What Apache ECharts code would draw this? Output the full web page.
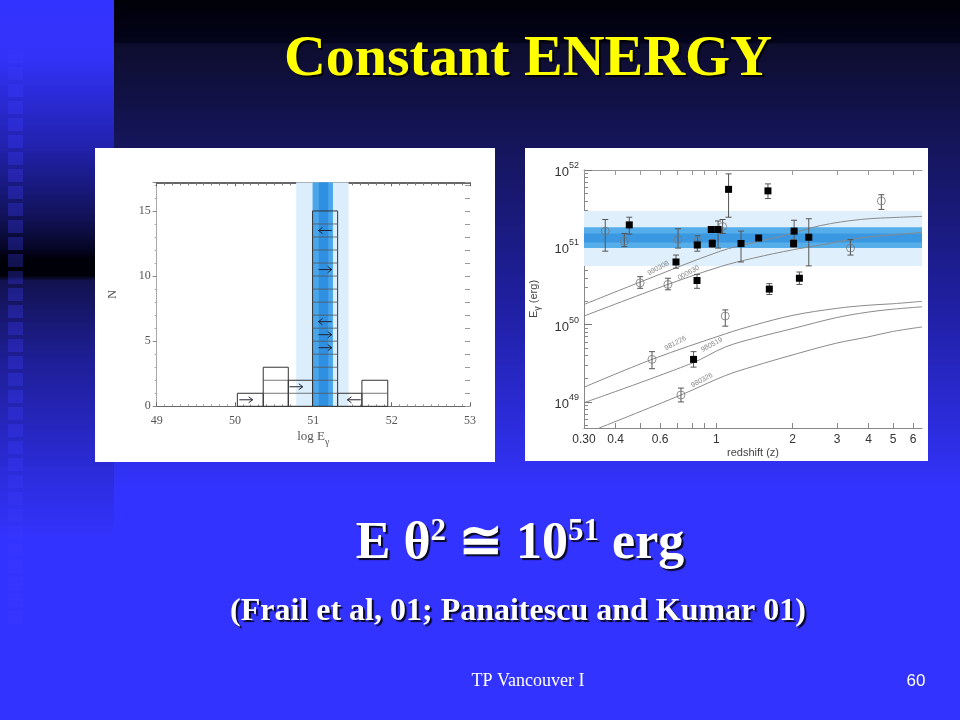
<!DOCTYPE html>
<html><head><meta charset="utf-8">
<script src="https://cdn.jsdelivr.net/npm/echarts@6.0.0/dist/echarts.min.js"></script>
<style>html,body{margin:0;padding:0;background:#3333ff;}#c{width:960px;height:720px;}</style>
</head><body><div id="c"></div>
<script>
// ---------- Left panel: histogram of log E_gamma ----------
const histBinEdges = [50.03, 50.36, 50.68, 50.99, 51.31, 51.62, 51.95];
const histCounts = [1, 3, 2, 15, 1, 2];
const histArrowX = [50.14, 50.78, 51.52, 51.15, 51.15, 51.15, 51.15, 51.15];
const histArrowN = [0.5, 1.5, 0.5, 13.5, 10.5, 6.5, 5.5, 4.5];
const histArrowDir = [1, 1, -1, -1, 1, -1, 1, 1];
const histXRange = [49, 53];
const histYRange = [0, 17.2];
const histYTicks = [0, 5, 10, 15];
const histBands = [[50.78, 51.45], [50.99, 51.25], [51.07, 51.19]];

// ---------- Right panel: E_gamma vs redshift ----------
const zFilled  = [0.453, 0.693, 0.841, 0.839, 0.955, 0.964, 1.016, 1.118, 1.60, 1.252, 1.47, 2.03, 2.02, 2.32, 1.62, 2.13, 0.813];
const eFilled  = [1.95e51, 6.46e50, 1.07e51, 3.72e50, 1.70e51, 1.12e51, 1.70e51, 5.62e51, 5.37e51, 1.12e51, 1.32e51, 1.62e51, 1.12e51, 1.35e51, 2.88e50, 3.98e50, 3.55e49];
const eFilledLo = [1.48e51, 5.37e50, 8.91e50, 2.95e50, 1.55e51, 1.00e51, 9.77e50, 2.45e51, 4.27e51, 6.46e50, 1.26e51, 1.15e51, 1.00e51, 5.75e50, 2.45e50, 3.31e50, 2.82e49];
const eFilledHi = [2.45e51, 7.94e50, 1.20e51, 4.47e50, 1.86e51, 1.26e51, 2.19e51, 8.91e51, 6.61e51, 1.62e51, 1.38e51, 2.24e51, 1.26e51, 2.34e51, 3.39e50, 4.79e50, 4.47e49];

const zOpen  = [0.364, 0.433, 0.706, 0.844, 1.059, 3.39, 4.49, 0.50, 0.644, 1.085, 0.557, 0.725];
const eOpen  = [1.62e51, 1.20e51, 1.26e51, 1.20e51, 1.86e51, 9.77e50, 3.98e51, 3.47e50, 3.31e50, 1.29e50, 3.55e49, 1.23e49];
const eOpenLo = [8.91e50, 1.02e51, 9.77e50, 1.05e51, 1.51e51, 7.94e50, 3.09e51, 2.95e50, 2.82e50, 9.55e49, 2.69e49, 1.00e49];
const eOpenHi = [2.29e51, 1.51e51, 1.74e51, 1.41e51, 2.29e51, 1.26e51, 4.79e51, 4.17e50, 3.98e50, 1.55e50, 4.47e49, 1.51e49];

const curveNames = ['990308', '000630', '981226', '980519', '980326'];
const curveZ = [
  [0.30, 0.50, 1.037, 1.40, 1.90, 2.58, 3.71, 5.34, 6.5],
  [0.30, 0.644, 1.037, 1.40, 2.02, 2.58, 3.71, 5.34, 6.5],
  [0.30, 0.557, 1.085, 1.40, 2.01, 2.98, 3.97, 4.96, 6.5],
  [0.30, 0.80, 1.085, 1.40, 2.01, 2.98, 3.97, 4.96, 6.5],
  [0.343, 0.725, 1.085, 1.40, 2.01, 2.98, 3.97, 4.96, 6.5]
];
const curveE = [
  [1.82e50, 3.55e50, 8.91e50, 1.15e51, 1.45e51, 1.91e51, 2.29e51, 2.45e51, 2.51e51],
  [1.29e50, 3.31e50, 5.62e50, 7.24e50, 9.33e50, 1.07e51, 1.32e51, 1.48e51, 1.55e51],
  [1.55e49, 3.55e49, 7.59e49, 9.77e49, 1.32e50, 1.62e50, 1.78e50, 1.86e50, 2.00e50],
  [9.77e48, 3.16e49, 5.13e49, 6.61e49, 8.91e49, 1.23e50, 1.45e50, 1.58e50, 1.70e50],
  [4.57e48, 1.23e49, 2.19e49, 2.88e49, 4.07e49, 5.75e49, 6.92e49, 8.13e49, 9.33e49]
];
const curveLabelZ = [0.59, 0.777, 0.689, 0.96, 0.878];
const curveLabelE = [5.37e50, 4.68e50, 5.75e49, 5.50e49, 1.91e49];

const eBands = [[5.75e50, 2.95e51], [9.77e50, 1.82e51], [1.15e51, 1.51e51]];
const zRange = [0.30, 6.5];
const eRange = [4.6e48, 1e52];
const zTickLabels = [0.3, 0.4, 0.6, 1, 2, 3, 4, 5, 6];
const zTicks = [0.3, 0.4, 0.5, 0.6, 0.7, 0.8, 0.9, 1, 2, 3, 4, 5, 6];
const eDecades = [1e49, 1e50, 1e51, 1e52];

// ---------- build ----------
const L = Math.log10;
const chart = echarts.init(document.getElementById('c'), null, {renderer: 'canvas', width: 960, height: 720});

const eMinorTicks = [];
for (let d = 48; d < 52; d++) for (let k = 1; k <= 9; k++) {
  const v = k * Math.pow(10, d);
  if (v >= eRange[0] && v <= eRange[1]) eMinorTicks.push(L(v));
}

const graphics = [];
graphics.push({type: 'rect', silent: true, z: -100,
  shape: {x: 0, y: 0, width: 960, height: 720},
  style: {fill: {type: 'linear', x: 0, y: 0, x2: 0, y2: 1, colorStops: [
    {offset: 0, color: '#000008'}, {offset: 0.058, color: '#03031a'}, {offset: 0.062, color: '#0d0d2e'},
    {offset: 0.21, color: '#15155e'}, {offset: 0.42, color: '#1f1fa0'}, {offset: 0.64, color: '#3030ee'},
    {offset: 0.68, color: '#3333ff'}, {offset: 1, color: '#3333ff'}]}}});
graphics.push({type: 'rect', silent: true, z: -99,
  shape: {x: 0, y: 0, width: 114, height: 720},
  style: {fill: {type: 'linear', x: 0, y: 0, x2: 0, y2: 1, colorStops: [
    {offset: 0, color: '#3333ff'}, {offset: 0.08, color: '#3232f8'}, {offset: 0.2, color: '#2222b0'},
    {offset: 0.3, color: '#12125a'}, {offset: 0.345, color: '#060626'}, {offset: 0.36, color: '#000008'},
    {offset: 0.383, color: '#000008'}, {offset: 0.39, color: '#121250'}, {offset: 0.5, color: '#1e1e96'},
    {offset: 0.66, color: '#2c2cdc'}, {offset: 0.75, color: '#3333ff'}, {offset: 1, color: '#3333ff'}]}}});
for (let i = 0; i < 34; i++) {
  graphics.push({type: 'rect', silent: true, z: -98,
    shape: {x: 8, y: 50 + i * 17, width: 15, height: 13},
    style: {fill: 'rgba(60,60,255,0.3)'}});
}
graphics.push({type: 'rect', silent: true, z: -50, shape: {x: 95, y: 148, width: 400, height: 314}, style: {fill: '#ffffff'}});
graphics.push({type: 'rect', silent: true, z: -50, shape: {x: 525, y: 148, width: 403, height: 313}, style: {fill: '#ffffff'}});

const shadow = {textShadowColor: 'rgba(0,0,0,0.85)', textShadowOffsetX: 2, textShadowOffsetY: 2, textShadowBlur: 1};
graphics.push({type: 'text', z: 100, x: 528, y: 60,
  style: Object.assign({text: 'Constant ENERGY', fill: '#ffff00', font: 'bold 58px "Liberation Serif"',
    align: 'center', verticalAlign: 'middle', textAlign: 'center', textVerticalAlign: 'middle'}, shadow)});
const big = Object.assign({fontSize: 52, fontWeight: 'bold', fontFamily: 'Liberation Serif', fill: '#fff', color: '#fff', lineHeight: 58}, shadow);
const sup = Object.assign({fontSize: 31, fontWeight: 'bold', fontFamily: 'Liberation Serif', fill: '#fff', color: '#fff', lineHeight: 34, verticalAlign: 'top'}, shadow);
graphics.push({type: 'text', z: 100, x: 520, y: 545,
  style: {text: '{a|E θ}{s|2}{a| ≅ 10}{s|51}{a| erg}', align: 'center', verticalAlign: 'middle',
    textAlign: 'center', textVerticalAlign: 'middle', rich: {a: big, s: sup}}});
graphics.push({type: 'text', z: 100, x: 518, y: 612,
  style: Object.assign({text: '(Frail et al, 01; Panaitescu and Kumar 01)', fill: '#fff', font: 'bold 32px "Liberation Serif"',
    align: 'center', verticalAlign: 'middle', textAlign: 'center', textVerticalAlign: 'middle'}, shadow)});
graphics.push({type: 'text', z: 100, x: 528, y: 681,
  style: {text: 'TP Vancouver I', fill: '#fff', font: '18px "Liberation Serif"', align: 'center', verticalAlign: 'middle', textAlign: 'center', textVerticalAlign: 'middle'}});
graphics.push({type: 'text', z: 100, x: 916, y: 681,
  style: {text: '60', fill: '#fff', font: '17px "Liberation Sans"', align: 'center', verticalAlign: 'middle', textAlign: 'center', textVerticalAlign: 'middle'}});

// renderers
const histBandColors = ['#dceefc', '#4aa6ea', '#2f8fe0'];
const eBandColors = ['#dff0fc', '#55adea', '#3a98e2'];
function renderVBand(params, api) {
  const cs = params.coordSys;
  const a = api.coord([api.value(0), 0]), b = api.coord([api.value(1), 0]);
  return {type: 'rect', shape: {x: a[0], y: cs.y, width: b[0] - a[0], height: cs.height}, style: {fill: histBandColors[api.value(2)]}};
}
function renderHBand(params, api) {
  const cs = params.coordSys;
  const a = api.coord([L(zRange[0]), api.value(0)]), b = api.coord([L(zRange[0]), api.value(1)]);
  return {type: 'rect', shape: {x: cs.x, y: b[1], width: cs.width, height: a[1] - b[1]}, style: {fill: eBandColors[api.value(2)]}};
}
function renderHist(params, api) {
  const x0 = api.value(0), x1 = api.value(1), n = api.value(2);
  const tl = api.coord([x0, n]), br = api.coord([x1, 0]);
  const ch = [{type: 'rect', shape: {x: tl[0], y: tl[1], width: br[0] - tl[0], height: br[1] - tl[1]}, style: {fill: 'none', stroke: '#333', lineWidth: 1}}];
  for (let k = 1; k < n; k++) {
    const a = api.coord([x0, k]), b = api.coord([x1, k]);
    ch.push({type: 'line', shape: {x1: a[0], y1: a[1], x2: b[0], y2: b[1]}, style: {stroke: '#555', lineWidth: 0.8}});
  }
  return {type: 'group', children: ch};
}
function renderArrow(params, api) {
  const xc = api.value(0), n = api.value(1), d = api.value(2);
  const a = api.coord([xc - d * 0.085, n]), b = api.coord([xc + d * 0.085, n]);
  return {type: 'group', children: [
    {type: 'line', shape: {x1: a[0], y1: a[1], x2: b[0], y2: b[1]}, style: {stroke: '#223', lineWidth: 1}},
    {type: 'polyline', shape: {points: [[b[0] - d * 4, b[1] - 3], [b[0], b[1]], [b[0] - d * 4, b[1] + 3]]}, style: {stroke: '#223', lineWidth: 1, fill: 'none'}}
  ]};
}
function renderErr(params, api) {
  const x = api.value(0), lo = api.value(1), hi = api.value(2);
  const a = api.coord([x, lo]), b = api.coord([x, hi]);
  const s = {stroke: '#555', lineWidth: 1};
  return {type: 'group', children: [
    {type: 'line', shape: {x1: a[0], y1: a[1], x2: b[0], y2: b[1]}, style: s},
    {type: 'line', shape: {x1: a[0] - 3, y1: a[1], x2: a[0] + 3, y2: a[1]}, style: s},
    {type: 'line', shape: {x1: b[0] - 3, y1: b[1], x2: b[0] + 3, y2: b[1]}, style: s}
  ]};
}

const serifLbl = {color: '#555', fontFamily: 'Liberation Serif', fontSize: 12};
const sansLbl = {color: '#333', fontFamily: 'Liberation Sans', fontSize: 12};
const noSplit = {show: false};

const series = [];
series.push({type: 'custom', xAxisIndex: 0, yAxisIndex: 0, z: 1, silent: true, clip: true,
  renderItem: renderVBand, data: histBands.map((b, i) => [b[0], b[1], i])});
series.push({type: 'custom', xAxisIndex: 0, yAxisIndex: 0, z: 3, silent: true,
  renderItem: renderHist, encode: {x: [0, 1], y: 2},
  data: histCounts.map((c, i) => [histBinEdges[i], histBinEdges[i + 1], c])});
series.push({type: 'custom', xAxisIndex: 0, yAxisIndex: 0, z: 4, silent: true,
  renderItem: renderArrow, encode: {x: 0, y: 1},
  data: histArrowX.map((x, i) => [x, histArrowN[i], histArrowDir[i]])});

series.push({type: 'custom', xAxisIndex: 2, yAxisIndex: 2, z: 1, silent: true, clip: true,
  renderItem: renderHBand, encode: {y: [0, 1]}, data: eBands.map((b, i) => [L(b[0]), L(b[1]), i])});
curveNames.forEach((nm, i) => {
  series.push({type: 'line', name: nm, xAxisIndex: 2, yAxisIndex: 2, z: 2, smooth: 0.35, symbol: 'none', clip: true, silent: true,
    lineStyle: {color: '#8a8a8a', width: 1},
    data: curveZ[i].map((z, j) => [L(z), L(curveE[i][j])])});
});
series.push({type: 'scatter', xAxisIndex: 2, yAxisIndex: 2, z: 3, symbolSize: 1, silent: true,
  itemStyle: {color: 'rgba(0,0,0,0)'},
  label: {show: true, position: 'inside', rotate: 28, fontSize: 7, color: '#666', fontFamily: 'Liberation Sans', formatter: p => p.data[2]},
  data: curveNames.map((nm, i) => [L(curveLabelZ[i]), L(curveLabelE[i]), nm])});
series.push({type: 'custom', xAxisIndex: 2, yAxisIndex: 2, z: 4, silent: true, clip: true,
  renderItem: renderErr, encode: {x: 0, y: [1, 2]},
  data: zFilled.map((z, i) => [L(z), L(eFilledLo[i]), L(eFilledHi[i])])
    .concat(zOpen.map((z, i) => [L(z), L(eOpenLo[i]), L(eOpenHi[i])]))});
series.push({type: 'scatter', xAxisIndex: 2, yAxisIndex: 2, z: 5, symbol: 'circle', symbolSize: 8, silent: true,
  itemStyle: {color: 'rgba(255,255,255,0)', borderColor: '#777', borderWidth: 1},
  data: zOpen.map((z, i) => [L(z), L(eOpen[i])])});
series.push({type: 'scatter', xAxisIndex: 2, yAxisIndex: 2, z: 6, symbol: 'rect', symbolSize: 7, silent: true,
  itemStyle: {color: '#000', opacity: 1},
  data: zFilled.map((z, i) => [L(z), L(eFilled[i])])});

const zLabelFmt = v => {
  const z = Math.pow(10, v);
  if (Math.abs(z - 0.3) < 1e-6) return '0.30';
  return String(parseFloat(z.toFixed(2)));
};

const option = {
  animation: false,
  backgroundColor: '#3333ff',
  graphic: {elements: graphics},
  grid: [
    {left: 156.7, top: 182.3, width: 313.3, height: 224},
    {left: 584, top: 170, width: 338, height: 258}
  ],
  xAxis: [
    {gridIndex: 0, type: 'value', position: 'bottom', min: histXRange[0], max: histXRange[1], interval: 1,
      axisLine: {show: true, onZero: false, lineStyle: {color: '#666', width: 1}},
      axisTick: {show: true, inside: true, length: 4, lineStyle: {color: '#666'}},
      minorTick: {show: true, splitNumber: 10, length: 2, lineStyle: {color: '#999'}},
      axisLabel: Object.assign({margin: 9}, serifLbl), splitLine: noSplit, minorSplitLine: noSplit,
      name: '{a|log E}{sub|γ}', nameLocation: 'middle', nameGap: 24,
      nameTextStyle: {rich: {a: {fontSize: 13, fontFamily: 'Liberation Serif', color: '#555', lineHeight: 16, verticalAlign: 'top'},
        sub: {fontSize: 10, fontFamily: 'Liberation Serif', color: '#555', lineHeight: 24}}}},
    {gridIndex: 0, type: 'value', position: 'top', min: histXRange[0], max: histXRange[1], interval: 1,
      axisLine: {show: true, onZero: false, lineStyle: {color: '#666', width: 2}},
      axisTick: {show: true, inside: true, length: 4, lineStyle: {color: '#666'}},
      minorTick: {show: true, splitNumber: 10, length: 3, lineStyle: {color: '#777'}},
      axisLabel: {show: false}, splitLine: noSplit},
    {gridIndex: 1, type: 'value', position: 'bottom', min: L(zRange[0]), max: L(zRange[1]),
      axisLine: {show: true, onZero: false, lineStyle: {color: '#888'}},
      axisTick: {show: true, inside: true, length: 5, lineStyle: {color: '#888'}, customValues: zTicks.map(L)},
      axisLabel: Object.assign({margin: 6, customValues: zTickLabels.map(L), formatter: zLabelFmt}, sansLbl),
      splitLine: noSplit,
      name: 'redshift (z)', nameLocation: 'middle', nameGap: 19,
      nameTextStyle: {fontFamily: 'Liberation Sans', fontSize: 11, color: '#444'}},
    {gridIndex: 1, type: 'value', position: 'top', min: L(zRange[0]), max: L(zRange[1]),
      axisLine: {show: true, onZero: false, lineStyle: {color: '#999'}},
      axisTick: {show: true, inside: true, length: 5, lineStyle: {color: '#999'}, customValues: zTicks.map(L)},
      axisLabel: {show: false}, splitLine: noSplit}
  ],
  yAxis: [
    {gridIndex: 0, type: 'value', position: 'left', min: histYRange[0], max: histYRange[1], interval: 5,
      axisLine: {show: true, onZero: false, lineStyle: {color: '#aaa'}},
      axisTick: {show: true, length: 4, lineStyle: {color: '#888'}},
      minorTick: {show: true, splitNumber: 5, length: 2, lineStyle: {color: '#aaa'}},
      axisLabel: Object.assign({margin: 6, customValues: histYTicks}, serifLbl), splitLine: noSplit, minorSplitLine: noSplit,
      name: 'N', nameLocation: 'middle', nameGap: 38, nameRotate: 90,
      nameTextStyle: {fontFamily: 'Liberation Serif', fontSize: 12, color: '#555'}},
    {gridIndex: 0, type: 'value', position: 'right', min: histYRange[0], max: histYRange[1], interval: 1,
      axisLine: {show: false, onZero: false},
      axisTick: {show: true, inside: true, length: 5, lineStyle: {color: '#999'}},
      axisLabel: {show: false}, splitLine: noSplit},
    {gridIndex: 1, type: 'value', position: 'left', min: L(eRange[0]), max: L(eRange[1]),
      axisLine: {show: true, onZero: false, lineStyle: {color: '#888'}},
      axisTick: {show: true, inside: true, length: 4, lineStyle: {color: '#888'}, customValues: eMinorTicks},
      axisLabel: {margin: 5, customValues: eDecades.map(L),
        formatter: v => '{b|10}{s|' + Math.round(v) + '}',
        rich: {b: {fontSize: 13, fontFamily: 'Liberation Sans', color: '#333', lineHeight: 18, verticalAlign: 'bottom'},
               s: {fontSize: 9, fontFamily: 'Liberation Sans', color: '#333', lineHeight: 10, verticalAlign: 'top'}}},
      splitLine: noSplit,
      name: '{a|E}{sub|γ}{a| (erg)}', nameLocation: 'middle', nameGap: 36, nameRotate: 90,
      nameTextStyle: {rich: {a: {fontSize: 11, fontFamily: 'Liberation Sans', color: '#444', lineHeight: 14, verticalAlign: 'top'},
        sub: {fontSize: 9, fontFamily: 'Liberation Sans', color: '#444', lineHeight: 20}}}},
    {gridIndex: 1, type: 'value', position: 'left', min: L(eRange[0]), max: L(eRange[1]),
      axisLine: {show: false, onZero: false},
      axisTick: {show: true, inside: true, length: 8, lineStyle: {color: '#777'}, customValues: eDecades.map(L)},
      axisLabel: {show: false}, splitLine: noSplit}
  ],
  series: series
};
chart.setOption(option);
</script>
</body></html>
